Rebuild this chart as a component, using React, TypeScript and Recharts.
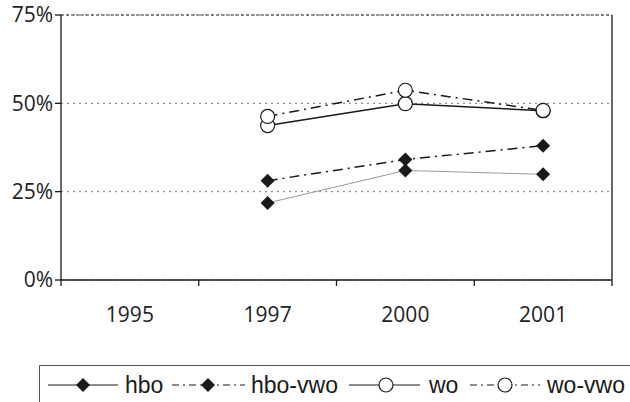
import React from 'react'
import {
  LineChart,
  Line,
  XAxis,
  YAxis,
  CartesianGrid,
  ReferenceLine,
} from 'recharts'

const years = ['1995', '1997', '2000', '2001']
const hbo = [null, 21.8, 31.0, 29.9]
const hboVwo = [null, 28.1, 34.1, 38.0]
const wo = [null, 43.7, 49.9, 47.9]
const woVwo = [null, 46.3, 53.7, 48.0]
const yTicks = [0, 25, 50, 75]

const data = years.map((year, i) => ({
  year,
  hbo: hbo[i],
  hboVwo: hboVwo[i],
  wo: wo[i],
  woVwo: woVwo[i],
}))

const AXIS_FONT = '"Open Sans", sans-serif'
const LEGEND_FONT = '"Liberation Sans", Arial, sans-serif'
const DASH_DOT = '10 5 2 5'
const HALF_BAND = 551 / 4 / 2

function Diamond(props: any) {
  const { cx, cy, key } = props
  if (cx == null || cy == null) return <g key={key} />
  const s = 7
  return (
    <polygon
      key={key}
      points={`${cx},${cy - s} ${cx + s},${cy} ${cx},${cy + s} ${cx - s},${cy}`}
      fill="#1a1a1a"
    />
  )
}

function Ring(props: any) {
  const { cx, cy, key } = props
  if (cx == null || cy == null) return <g key={key} />
  return <circle key={key} cx={cx} cy={cy} r={7} fill="#fff" stroke="#1a1a1a" strokeWidth={1.2} />
}

function YearTick(props: any) {
  const { x, payload, index } = props
  const axisY = 280
  return (
    <g>
      <line x1={x - HALF_BAND} y1={axisY} x2={x - HALF_BAND} y2={axisY + 6} stroke="#1a1a1a" strokeWidth={1.3} />
      {index === years.length - 1 && (
        <line x1={x + HALF_BAND} y1={axisY} x2={x + HALF_BAND} y2={axisY + 6} stroke="#1a1a1a" strokeWidth={1.3} />
      )}
      <text
        x={x}
        y={axisY + 42}
        textAnchor="middle"
        fill="#222"
        fontSize={21}
        fontFamily={AXIS_FONT}
      >
        {payload.value}
      </text>
    </g>
  )
}

function LegendBox() {
  const cy = 20
  const diamond = (cx: number) => (
    <polygon points={`${cx},${cy - 7} ${cx + 7},${cy} ${cx},${cy + 7} ${cx - 7},${cy}`} fill="#1a1a1a" />
  )
  const ring = (cx: number) => <circle cx={cx} cy={cy} r={7} fill="#fff" stroke="#1a1a1a" strokeWidth={1.2} />
  const label = (x: number, t: string) => (
    <text x={x} y={cy + 8} fontSize={23} fontFamily={LEGEND_FONT} fill="#1a1a1a">
      {t}
    </text>
  )
  return (
    <svg
      width={600}
      height={40}
      style={{ position: 'absolute', left: 39, top: 365, overflow: 'visible' }}
    >
      <line x1={0.5} y1={0.5} x2={600} y2={0.5} stroke="#555" />
      <line x1={0.5} y1={0.5} x2={0.5} y2={40} stroke="#555" />
      <line x1={9} y1={cy} x2={79} y2={cy} stroke="#1a1a1a" strokeWidth={1.2} />
      {diamond(44)}
      {label(86, 'hbo')}
      <line x1={133} y1={cy} x2={206} y2={cy} stroke="#1a1a1a" strokeWidth={1.2} strokeDasharray="7 4 2 4" />
      {diamond(169)}
      {label(212, 'hbo-vwo')}
      <line x1={310} y1={cy} x2={381} y2={cy} stroke="#1a1a1a" strokeWidth={1.2} />
      {ring(347)}
      {label(390, 'wo')}
      <line x1={431} y1={cy} x2={501} y2={cy} stroke="#1a1a1a" strokeWidth={1.2} strokeDasharray="7 4 2 4" />
      {ring(466)}
      {label(508, 'wo-vwo')}
    </svg>
  )
}

export default function App() {
  return (
    <div
      style={{
        position: 'fixed',
        left: 0,
        top: 0,
        width: 630,
        height: 402,
        background: '#fff',
        overflow: 'hidden',
      }}
    >
      <LineChart
        width={630}
        height={340}
        data={data}
        margin={{ top: 15, right: 17, left: 0, bottom: 0 }}
      >
        <CartesianGrid horizontal vertical={false} stroke="#777" strokeDasharray="2 4" />
        <XAxis
          dataKey="year"
          height={60}
          interval={0}
          padding={{ left: HALF_BAND, right: HALF_BAND }}
          tickLine={false}
          axisLine={{ stroke: '#1a1a1a', strokeWidth: 1.3 }}
          tick={<YearTick />}
        />
        <YAxis
          domain={[0, 75]}
          ticks={yTicks}
          width={61}
          tickFormatter={(v) => `${v}%`}
          tick={{ fill: '#222', fontSize: 21, fontFamily: AXIS_FONT }}
          tickLine={{ stroke: '#1a1a1a', strokeWidth: 1.3 }}
          tickSize={6}
          axisLine={{ stroke: '#1a1a1a', strokeWidth: 1.3 }}
        />
        <YAxis
          yAxisId="r"
          orientation="right"
          width={1}
          tick={false}
          tickLine={false}
          axisLine={{ stroke: '#1a1a1a', strokeWidth: 1.3 }}
        />
        <ReferenceLine y={75} stroke="#333" strokeDasharray="3 2" />
        <Line
          dataKey="hbo"
          stroke="#999"
          strokeWidth={1}
          dot={Diamond}
          isAnimationActive={false}
        />
        <Line
          dataKey="hboVwo"
          stroke="#1a1a1a"
          strokeWidth={1.5}
          strokeDasharray={DASH_DOT}
          dot={Diamond}
          isAnimationActive={false}
        />
        <Line
          dataKey="wo"
          stroke="#1a1a1a"
          strokeWidth={1.5}
          dot={Ring}
          isAnimationActive={false}
        />
        <Line
          dataKey="woVwo"
          stroke="#1a1a1a"
          strokeWidth={1.5}
          strokeDasharray={DASH_DOT}
          dot={Ring}
          isAnimationActive={false}
        />
      </LineChart>
      <LegendBox />
    </div>
  )
}
